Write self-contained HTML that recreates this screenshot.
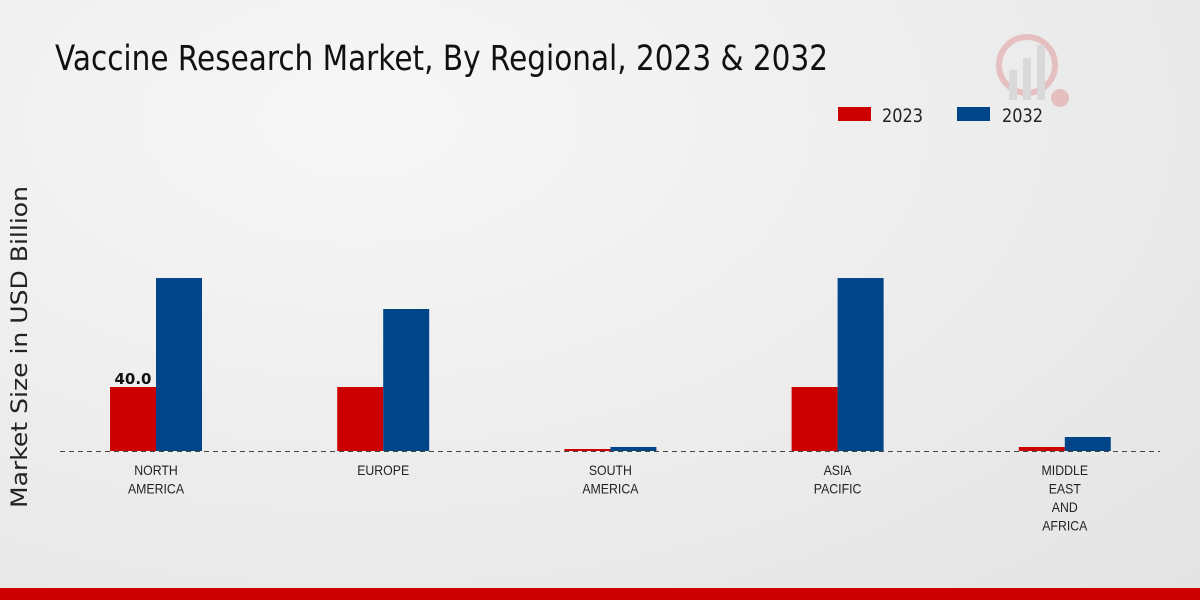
<!DOCTYPE html>
<html><head><meta charset="utf-8"><style>
body{margin:0;width:1200px;height:600px;overflow:hidden;font-family:"DejaVu Sans","Liberation Sans",sans-serif;}
#wrap{position:relative;width:1200px;height:600px;background:radial-gradient(ellipse at 30% 20%,#f7f7f7 0%,#ebebeb 60%,#e4e4e4 100%);}
</style></head><body>
<div id="wrap">
<svg id="chart" width="1200" height="600" xmlns="http://www.w3.org/2000/svg">
<text x="55" y="70" font-size="35" font-family="DejaVu Sans, sans-serif" fill="#111" textLength="773" lengthAdjust="spacingAndGlyphs">Vaccine Research Market, By Regional, 2023 &amp; 2032</text>
<g opacity="0.18">
<circle cx="1027" cy="65" r="28" fill="none" stroke="#cc0000" stroke-width="6"/>
<rect x="1009" y="70" width="8" height="30" fill="#888"/>
<rect x="1023" y="58" width="8" height="42" fill="#888"/>
<rect x="1037" y="45" width="8" height="55" fill="#888"/>
<circle cx="1060" cy="98" r="9" fill="#cc0000"/>
</g>
<text transform="translate(27,347) rotate(-90)" text-anchor="middle" font-size="22" fill="#222" textLength="322" lengthAdjust="spacingAndGlyphs">Market Size in USD Billion</text>
<g>
<rect x="838" y="107" width="33" height="14" fill="#cc0000"/>
<text x="882" y="122" font-size="19" fill="#222" textLength="41" lengthAdjust="spacingAndGlyphs">2023</text>
<rect x="957" y="107" width="33" height="14" fill="#004587"/>
<text x="1002" y="122" font-size="19" fill="#222" textLength="41" lengthAdjust="spacingAndGlyphs">2032</text>
</g>
<g id="bars"></g>
<line x1="60" y1="451.5" x2="1160" y2="451.5" stroke="#444" stroke-dasharray="5,4"/>
<g id="labels"></g>
<rect x="0" y="588" width="1200" height="12" fill="#cc0000"/>
</svg>
</div>
<script>
const categories=[["NORTH","AMERICA"],["EUROPE"],["SOUTH","AMERICA"],["ASIA","PACIFIC"],["MIDDLE","EAST","AND","AFRICA"]];
const values2023=[40.0,40.0,1.25,40.0,2.5];
const values2032=[108.1,88.75,2.5,108.1,8.75];
const ns="http://www.w3.org/2000/svg";
const baseY=451, pxPerUnit=1.6, x0=156, step=227.2, bw=46;
function yScale(v){return baseY-v*pxPerUnit;}
function xCenter(i){return x0+i*step;}
const bars=document.getElementById('bars'), labels=document.getElementById('labels');
categories.forEach((c,i)=>{
  [[values2023,'#cc0000',-bw,'2023'],[values2032,'#004587',0,'2032']].forEach(s=>{
    const r=document.createElementNS(ns,'rect');
    const v=s[0][i];
    r.setAttribute('x',xCenter(i)+s[2]);
    r.setAttribute('y',yScale(v));
    r.setAttribute('width',bw);
    r.setAttribute('height',baseY-yScale(v));
    r.setAttribute('fill',s[1]);
    
    
    bars.appendChild(r);
  });
  c.forEach((line,j)=>{
    const t=document.createElementNS(ns,'text');
    t.setAttribute('x',xCenter(i));
    t.setAttribute('y',475+j*18.5);
    t.setAttribute('text-anchor','middle');
    t.setAttribute('font-size','14');
    t.setAttribute('fill','#222');
    t.setAttribute('font-family','Liberation Sans, sans-serif');
    t.setAttribute('transform','translate('+xCenter(i)+',0) scale(0.88,1) translate('+(-xCenter(i))+',0)');
    
    
    t.textContent=line;
    labels.appendChild(t);
  });
});
const vl=document.createElementNS(ns,'text');
vl.setAttribute('x',xCenter(0)-bw/2);
vl.setAttribute('y',yScale(values2023[0])-3);
vl.setAttribute('text-anchor','middle');
vl.setAttribute('font-size','15');
vl.setAttribute('font-weight','bold');
vl.setAttribute('fill','#111');


vl.textContent=values2023[0].toFixed(1);
labels.appendChild(vl);
</script>
</body></html>
